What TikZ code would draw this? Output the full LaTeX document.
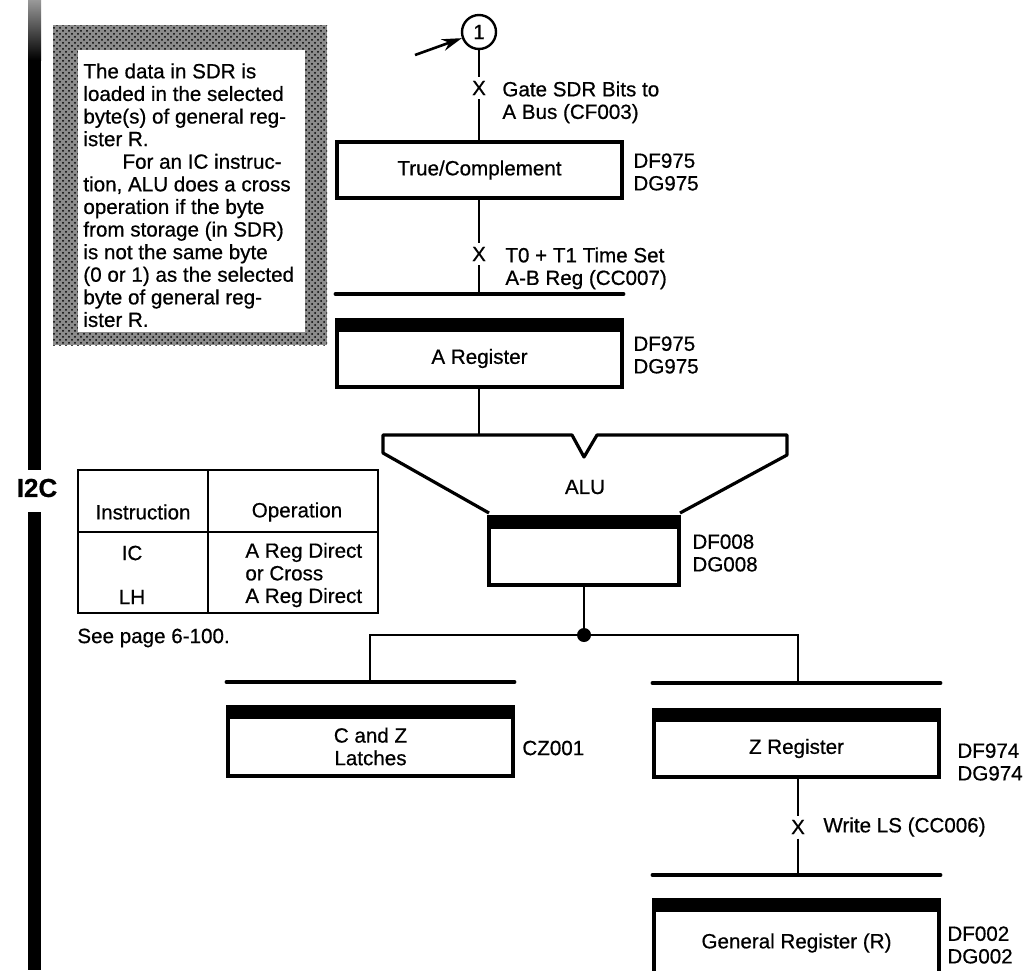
\documentclass[tikz,border=0pt]{standalone}
\usepackage{fontspec}
\setmainfont{Liberation Sans}[FakeBold=0.6]
\usetikzlibrary{arrows.meta,patterns}
\tikzset{
  wire/.style={line width=1.3pt},
  bus/.style={line width=1.8pt,line cap=round},
  outline/.style={line width=1.6pt,line join=round},
  band/.style={fill=black,minimum width=#1+1.6pt,minimum height=7pt,
    inner sep=0pt,outer sep=0pt},
  plainbox/.style n args={2}{draw,line width=1.6pt,fill=white,
    minimum width=#1,minimum height=#2,inner sep=0pt,align=center},
  regbox/.style n args={2}{plainbox={#1}{#2},
    label={[band=#1,label distance=-1.8pt]above:{}}},
  xmark/.style={inner sep=2pt},
  sig/.style={anchor=north west,inner sep=0pt,align=left},
  refs/.style={anchor=north west,inner sep=0pt,align=left},
  dot/.style={circle,fill=black,inner sep=0pt,minimum size=7pt},
}

\begin{document}
\begin{tikzpicture}[x=0.5pt,y=-0.5pt,font=\fontsize{10.3}{11.3}\selectfont]
  \useasboundingbox (0,0) rectangle (1026,970);
  \clip (0,0) rectangle (1026,970);

  % margin bar with the section tag
  \shade[top color=black!40,bottom color=black] (28,0) rectangle (41,60);
  \fill (28,60) rectangle (41,470);
  \fill (28,512) rectangle (41,970);
  \node[font=\bfseries\fontsize{13}{15}\selectfont] (tag) at (37,488) {I2C};

  % stippled note
  \fill[black!45] (53,25) rectangle (327,345);
  \fill[pattern=crosshatch dots] (53,25) rectangle (327,345);
  \fill[white] (78,50) rectangle (305,332);
  \node[anchor=north west,inner sep=0pt,align=left] (note) at (83,63)
    {The data in SDR is\\
     loaded in the selected\\
     byte(s) of general reg-\\
     ister R.\\
     \hspace*{1.9em}For an IC instruc-\\
     tion, ALU does a cross\\
     operation if the byte\\
     from storage (in SDR)\\
     is not the same byte\\
     (0 or 1) as the selected\\
     byte of general reg-\\
     ister R.};

  % instruction table
  \draw[line width=1.2pt] (78,470) rectangle (378,613);
  \draw[line width=1.2pt] (78,532) -- (378,532);
  \draw[line width=1.2pt] (208,470) -- (208,613);
  \node (hdins) at (143,512) {Instruction};
  \node (hdop) at (297,512) {Operation};
  \node (ic) at (132,553) {IC};
  \node (lh) at (132,597) {LH};
  \node[anchor=west,inner sep=0pt,align=left] (ops) at (245,575)
    {A Reg Direct\\or Cross\\A Reg Direct};
  \node[anchor=west,inner sep=0pt] (seepg) at (77,638) {See page 6-100.};

  % entry point and true/complement stage
  \node[circle,draw,line width=1.2pt,minimum size=17pt,inner sep=0pt] (c1) at (479,32) {1};
  \coordinate (feed) at (415,55);
  \draw[wire,-{Stealth[length=10pt,width=6pt]}] (feed) -- (c1);

  \node[xmark] (x1) at (479,88) {X};
  \node[sig] (s1) at (502,81) {Gate SDR Bits to\\A Bus (CF003)};
  \node[plainbox={142.5pt}{28pt}] (tc) at (479.5,170) {True/Complement};
  \node[refs] at (633,153) {DF975\\DG975};
  \draw[wire] (c1) -- (x1) -- (x1 |- tc.north);

  \node[xmark] (x2) at (479,254) {X};
  \node[sig] (s2) at (505,247) {T0 + T1 Time Set\\A-B Reg (CC007)};
  \coordinate (abar) at (479,294);
  \draw[wire] (x2 |- tc.south) -- (x2) -- (abar);

  % A register
  \node[regbox={142.5pt}{28.5pt}] (areg) at (479.5,358.5) {A Register};
  \node[refs] at (633,336) {DF975\\DG975};
  \draw[bus] (areg.west |- abar) -- (areg.east |- abar);

  % ALU funnel
  \coordinate (aluin) at (479,435);
  \draw[wire] (areg.south -| aluin) -- (aluin);
  \draw[outline] (489,513) -- (383,453) -- (383,435) -- (572,435) -- (584,457)
    -- (597,435) -- (787,435) -- (787,455) -- (680,513);
  \node (alu) at (585,487) {ALU};
  \node[regbox={95pt}{29pt}] (alureg) at (584,556) {};
  \node[refs] at (692,534) {DF008\\DG008};

  % split to the latches and the Z register
  \node[dot] (j) at (584,635) {};
  \coordinate (czbar) at (370,682);
  \coordinate (zbar) at (798,683);
  \draw[wire] (alureg) -- (j);
  \draw[wire] (j) -| (czbar);
  \draw[wire] (j) -| (zbar);

  \node[regbox={142.5pt}{29.5pt}] (czl) at (370.5,746.5) {C and Z\\Latches};
  \node[anchor=west,inner sep=0pt] at (522,748) {CZ001};
  \draw[bus] (czl.west |- czbar) -- (czl.east |- czbar);

  \node[regbox={142.5pt}{28.5pt}] (zreg) at (796.5,748.5) {Z Register};
  \node[refs] at (957,743) {DF974\\DG974};
  \draw[bus] (zreg.west |- zbar) -- (zreg.east |- zbar);

  % write to local storage
  \node[xmark] (x3) at (798,827) {X};
  \node[anchor=west,inner sep=0pt] (s3) at (823,827) {Write LS (CC006)};
  \coordinate (gbar) at (798,875);
  \draw[wire] (x3 |- zreg.south) -- (x3) -- (gbar);

  \node[regbox={142.5pt}{33pt}] (greg) at (796.5,943) {General Register (R)};
  \node[refs] at (947,926) {DF002\\DG002};
  \draw[bus] (greg.west |- gbar) -- (greg.east |- gbar);
\end{tikzpicture}
\end{document}
